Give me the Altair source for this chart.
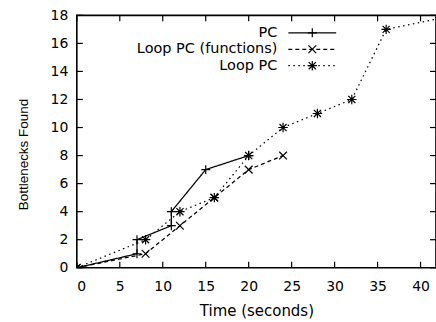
import altair as alt
import pandas as pd

# ---- data ----
pc_time = [0, 7, 7, 11, 11, 15, 20]
pc_found = [0, 1, 2, 3, 4, 7, 8]
func_time = [0, 8, 12, 16, 20, 24]
func_found = [0, 1, 3, 5, 7, 8]
loop_time = [0, 8, 12, 16, 20, 24, 28, 32, 36, 44]
loop_found = [0, 2, 4, 5, 8, 10, 11, 12, 17, 18]
series_names = ["PC", "Loop PC (functions)", "Loop PC"]
x_ticks = [0, 5, 10, 15, 20, 25, 30, 35, 40]
y_ticks = [0, 2, 4, 6, 8, 10, 12, 14, 16, 18]

W, H = 360, 253
FONT = "DejaVu Sans"
xs = alt.Scale(domain=[0, 41.8], nice=False, zero=False)
ys = alt.Scale(domain=[0, 18], nice=False, zero=False)

PLUS = "M-1,0L1,0M0,-1L0,1"
CROSS = "M-1,-1L1,1M-1,1L1,-1"
STAR = "M-1,0L1,0M0,-1L0,1M-0.75,-0.75L0.75,0.75M-0.75,0.75L0.75,-0.75"

styles = [
    (series_names[0], pc_time, pc_found, [1, 0], PLUS, 80),
    (series_names[1], func_time, func_found, [4, 3], CROSS, 60),
    (series_names[2], loop_time, loop_found, [1.5, 3.5], STAR, 90),
]

x_axis = alt.Axis(values=x_ticks, ticks=False, domain=False, grid=False,
                  labelFont=FONT, labelFontSize=14, labelColor="black",
                  labelPadding=12, title="Time (seconds)", titleFont=FONT,
                  titleFontSize=15, titleFontWeight="normal", titleColor="black",
                  titleBaseline="alphabetic", titleY=48, titleX=W / 2)
y_axis = alt.Axis(values=y_ticks, ticks=False, domain=False, grid=False,
                  labelFont=FONT, labelFontSize=14, labelColor="black",
                  labelPadding=9, title="Bottlenecks Found", titleFont="Liberation Sans",
                  titleFontSize=13.5, titleFontWeight="normal", titleColor="black",
                  titleAngle=-90, titleBaseline="alphabetic", titleAlign="center",
                  titleX=-49, titleY=139)


def X(field):
    return alt.X(field, scale=xs, axis=x_axis)


def Y(field):
    return alt.Y(field, scale=ys, axis=y_axis)


layers = []
for name, t, f, dash, shape, size in styles:
    df = pd.DataFrame({"t": t, "f": f, "i": list(range(len(t)))})
    layers.append(alt.Chart(df).mark_line(color="black", strokeWidth=1.25,
                                          strokeDash=dash, clip=True)
                  .encode(x=X("t:Q"), y=Y("f:Q"), order="i:Q"))
    layers.append(alt.Chart(df).mark_point(shape=shape, filled=False, stroke="black",
                                           strokeWidth=1.2, size=size, opacity=1, clip=True)
                  .encode(x=X("t:Q"), y=Y("f:Q")))

# inward ticks (gnuplot style) on all four sides
xt = pd.DataFrame({"t": x_ticks})
yt = pd.DataFrame({"f": y_ticks})
tick = dict(color="black", strokeWidth=1.2)
layers.append(alt.Chart(xt).mark_rule(**tick).encode(
    x=X("t:Q"), y=alt.value(H), y2=alt.value(H - 6)))
layers.append(alt.Chart(xt).mark_rule(**tick).encode(
    x=X("t:Q"), y=alt.value(0), y2=alt.value(6)))
layers.append(alt.Chart(yt).mark_rule(**tick).encode(
    y=Y("f:Q"), x=alt.value(0), x2=alt.value(6)))
layers.append(alt.Chart(yt).mark_rule(**tick).encode(
    y=Y("f:Q"), x=alt.value(W - 6), x2=alt.value(W)))

# legend (text on the left, sample on the right, as in gnuplot)
rows = [17.5, 34, 50.5]
for (name, t, f, dash, shape, size), ry in zip(styles, rows):
    ld = pd.DataFrame({"name": [name]})
    layers.append(alt.Chart(ld).mark_text(align="right", baseline="middle", font=FONT,
                                          fontSize=14.5, color="black")
                  .encode(text="name:N", x=alt.value(201), y=alt.value(ry)))
    layers.append(alt.Chart(ld).mark_rule(color="black", strokeWidth=1.25, strokeDash=dash)
                  .encode(x=alt.value(212), x2=alt.value(260), y=alt.value(ry)))
    layers.append(alt.Chart(ld).mark_point(shape=shape, filled=False, stroke="black",
                                           strokeWidth=1.2, size=size, opacity=1)
                  .encode(x=alt.value(236), y=alt.value(ry)))

chart = alt.layer(*layers).properties(
    width=W, height=H, autosize="none",
    padding={"left": 77, "top": 15, "right": 0, "bottom": 54},
    background="white",
).configure_view(stroke="black", strokeWidth=1.6)

chart.save("out.html", embed_options={"renderer": "svg", "actions": False})
